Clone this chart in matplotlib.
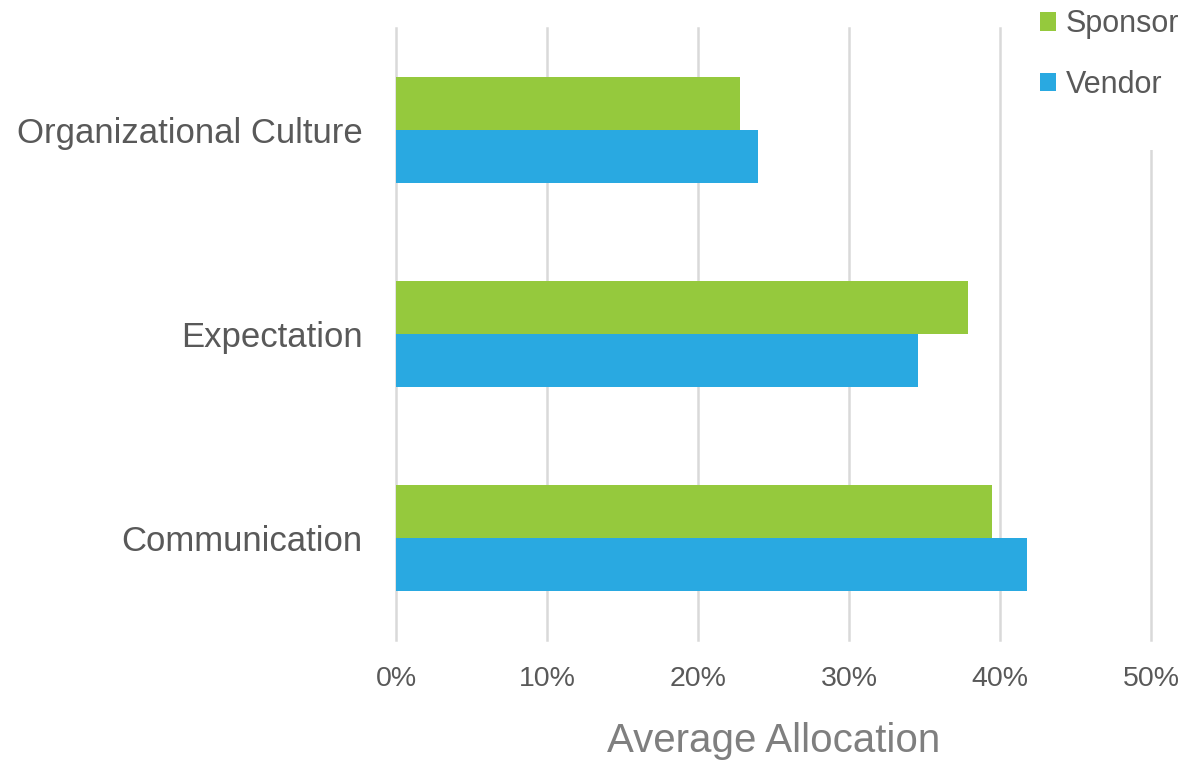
import matplotlib.pyplot as plt
import numpy as np
from matplotlib.ticker import PercentFormatter
from matplotlib.patches import Rectangle

# average allocation per conflict source (percent)
categories = ["Communication", "Expectation", "Organizational Culture"]
sponsor = [39.5, 37.9, 22.8]
vendor = [41.8, 34.6, 24.0]

green = "#95C93D"
blue = "#29A9E1"
grid_gray = "#D9D9D9"

plt.rcParams['font.family'] = ['Liberation Sans', 'DejaVu Sans']

fig = plt.figure(figsize=(11.8, 7.6), dpi=100)
ax = fig.add_axes([0.3356, 0.1579, 0.6398, 0.8053])

y = np.arange(len(categories))
h = 0.26
ax.barh(y + h / 2, sponsor, height=h, color=green, label="Sponsor", zorder=2)
ax.barh(y - h / 2, vendor, height=h, color=blue, label="Vendor", zorder=2)

ax.set_xlim(0, 50)
ax.set_ylim(-0.5, 2.5)
ax.set_xticks(np.arange(0, 51, 10))
ax.xaxis.set_major_formatter(PercentFormatter(decimals=0))
ax.set_yticks(y)
ax.set_yticklabels(categories)

ax.grid(axis='x', color=grid_gray, linewidth=1.8, zorder=0)
for gl in ax.get_xgridlines():
    gl.set_clip_on(False)
ax.set_axisbelow(True)
for s in ax.spines.values():
    s.set_visible(False)

ax.tick_params(axis='x', length=0, pad=19, labelsize=20.5, labelcolor="#595959")
ax.tick_params(axis='y', length=0, pad=24, labelsize=25, labelcolor="#595959")
ax.set_xlabel("Average Allocation", fontsize=29, color="#7F7F7F", labelpad=21)

# white legend area over the top-right corner
fig.patches.append(Rectangle((0.872, 0.803), 0.128, 0.197, transform=fig.transFigure,
                             facecolor='white', edgecolor='none', zorder=3))

handles, labels = ax.get_legend_handles_labels()
leg = fig.legend(handles, labels, loc='upper right', bbox_to_anchor=(1.007, 1.0),
                 fontsize=22, frameon=False,
                 handlelength=0.55, handleheight=0.55, handletextpad=0.3,
                 labelspacing=1.0, borderpad=0.3, borderaxespad=0.0)
for t in leg.get_texts():
    t.set_color("#595959")
leg.set_zorder(5)

plt.savefig('out.png', dpi=100)
